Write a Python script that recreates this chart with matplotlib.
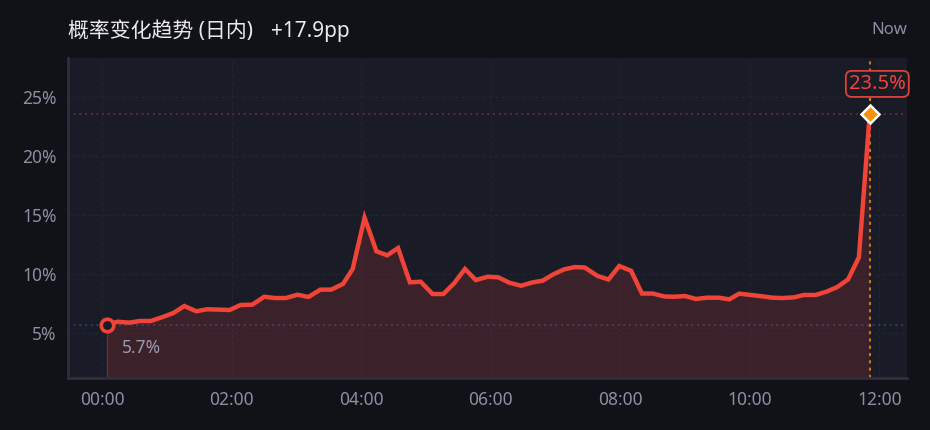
import matplotlib
matplotlib.use("Agg")
import matplotlib.pyplot as plt
from matplotlib.ticker import FixedLocator, FuncFormatter

plt.rcParams['font.family'] = ['Noto Sans', 'Noto Sans CJK SC', 'DejaVu Sans']

# ---- data ----
minutes = [4, 14, 25, 35, 45, 56, 66, 76, 87, 97, 108, 118, 128, 139, 150, 160, 170,
           181, 191, 202, 212, 223, 232, 243, 254, 264, 274, 285, 295, 306, 316, 326,
           336, 346, 357, 367, 377, 388, 398, 408, 418, 428, 438, 447, 459, 469, 479,
           490, 500, 510, 521, 530, 540, 550, 560, 571, 581, 590, 601, 611, 621, 630,
           641, 650, 661, 671, 681, 691, 701, 711]
prob = [5.70, 5.98, 5.90, 6.04, 6.04, 6.38, 6.72, 7.31, 6.86, 7.03, 7.00, 6.97, 7.39,
        7.42, 8.09, 7.98, 7.98, 8.26, 8.07, 8.69, 8.69, 9.17, 10.44, 14.77, 11.93,
        11.59, 12.21, 9.31, 9.36, 8.32, 8.32, 9.23, 10.44, 9.50, 9.78, 9.73, 9.28,
        9.02, 9.29, 9.45, 9.99, 10.41, 10.60, 10.56, 9.84, 9.55, 10.69, 10.28, 8.36,
        8.36, 8.11, 8.09, 8.15, 7.90, 8.01, 8.01, 7.87, 8.35, 8.24, 8.13, 8.01, 7.98,
        8.04, 8.24, 8.24, 8.52, 8.91, 9.56, 11.42, 23.50]
x_ticks = [0, 120, 240, 360, 480, 600, 720]
x_labels = ["00:00", "02:00", "04:00", "06:00", "08:00", "10:00", "12:00"]
y_ticks = [5, 10, 15, 20, 25]
title_main = "概率变化趋势 (日内)"
title_delta = "+17.9pp"
start_label = "5.7%"
end_label = "23.5%"
now_label = "Now"

# ---- style ----
FIG_BG = "#111217"
AX_BG = "#191b27"
RED = "#f04438"
ORANGE = "#f5920a"
GRID = "#222534"
TICK = "#8b8fa3"

fig = plt.figure(figsize=(9.3, 4.3), dpi=100, facecolor=FIG_BG)
ax = fig.add_axes([0.0731, 0.1209, 0.9022, 0.7442])
ax.set_facecolor(AX_BG)

ax.set_xlim(-31.8, 745.6)
ax.set_ylim(1.22, 28.27)

# grid
ax.xaxis.set_major_locator(FixedLocator(x_ticks))
ax.set_xticklabels(x_labels)
ax.yaxis.set_major_locator(FixedLocator(y_ticks))
ax.yaxis.set_major_formatter(FuncFormatter(lambda v, p: f"{int(v)}%"))
ax.grid(True, color=GRID, linestyle=(0, (3, 3)), linewidth=0.8)
ax.set_axisbelow(True)

for s in ["top", "right"]:
    ax.spines[s].set_visible(False)
for s in ["left", "bottom"]:
    ax.spines[s].set_color("#2c2f3e")
    ax.spines[s].set_linewidth(2)

ax.tick_params(axis="both", length=0, colors=TICK, labelsize=12.5)
ax.tick_params(axis="y", pad=8)
ax.tick_params(axis="x", pad=9)

# reference lines
ax.axhline(prob[-1], color="#6e2c31", linestyle=(0, (1.2, 2.2)), linewidth=1.2, zorder=1)
ax.axhline(prob[0], color="#323f74", linestyle=(0, (1.2, 2.2)), linewidth=1.2, zorder=1)
ax.axvline(minutes[-1], color="#c97a14", linestyle=(0, (1.5, 2)), linewidth=1.5, zorder=2)

# fill + line
ax.fill_between(minutes, prob, 1.22, color=RED, alpha=0.16, linewidth=0, zorder=2)
ax.plot([minutes[0], minutes[0]], [1.22, prob[0]], color=RED, alpha=0.35, lw=1, zorder=2)
ax.plot(minutes, prob, color=RED, linewidth=3.2, solid_joinstyle="miter", zorder=3)

# start marker
ax.plot(minutes[0], prob[0], marker="o", ms=9, mew=2.6, mec=RED, mfc=AX_BG, zorder=5)
ax.annotate(start_label, (minutes[0], prob[0]), xytext=(11, -16.3), textcoords="offset points",
            ha="left", va="center", color="#9a9db0", fontsize=12.5, zorder=5)

# end marker
ax.plot(minutes[-1], prob[-1], marker="D", ms=9.5, mew=1.8, mec="white", mfc=ORANGE, zorder=6)
ax.annotate(end_label, (minutes[-1], prob[-1]), xytext=(5.5, 22), textcoords="offset points",
            ha="center", va="center", color=RED, fontsize=14.5, zorder=7,
            bbox=dict(boxstyle="round,pad=0.15,rounding_size=0.3", fc=AX_BG, ec="#d9443a", lw=1.3))

# titles
fam = ['Noto Sans', 'Noto Sans CJK SC', 'DejaVu Sans']
fig.text(68 / 930, 1 - 32 / 430, title_main, ha="left", va="center", color="#e9e9ef",
         fontsize=15, family=fam)
fig.text(271 / 930, 1 - 32 / 430, title_delta, ha="left", va="center", color="#e9e9ef",
         fontsize=15, family=fam)
fig.text(907 / 930, 1 - 30 / 430, now_label, ha="right", va="center", color=TICK, fontsize=12)

fig.savefig("out.png", dpi=100, facecolor=FIG_BG)
